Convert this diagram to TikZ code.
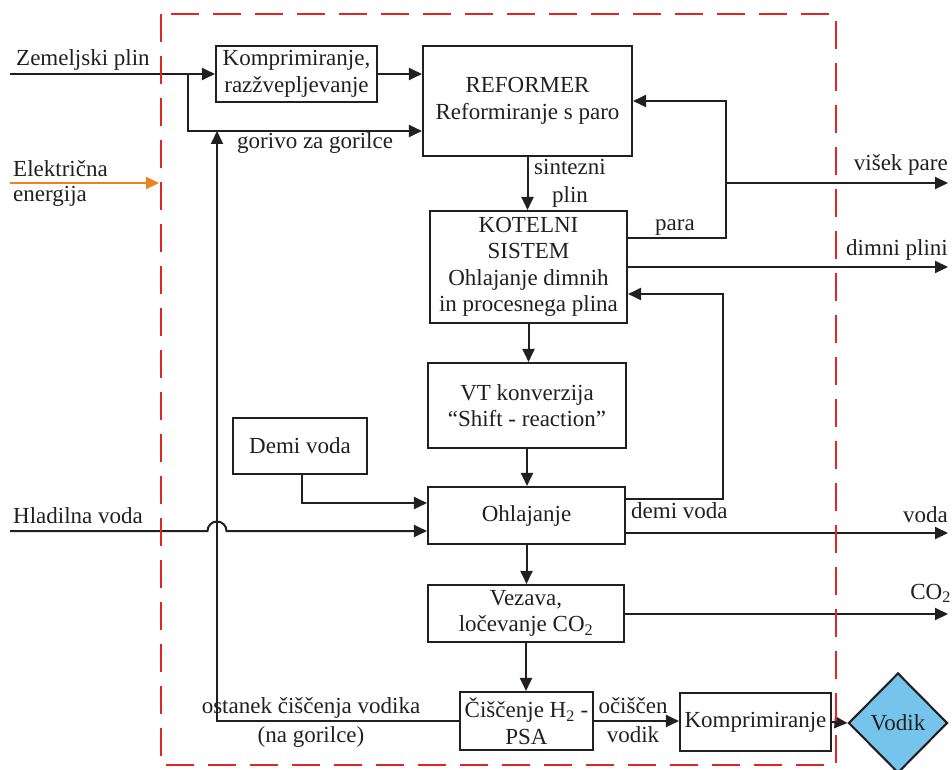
\documentclass[tikz,border=0pt]{standalone}
\usepackage{fontspec}
\setmainfont{Liberation Serif}
\usetikzlibrary{arrows.meta,shapes.geometric}
\definecolor{frame}{HTML}{E12424}
\definecolor{power}{HTML}{EB8321}
\definecolor{hyd}{HTML}{76C4EC}
\definecolor{ink}{HTML}{231F20}

\begin{document}
\begin{tikzpicture}[x=1pt,y=-1pt,
  every node/.style={font=\fontsize{23}{26.5}\selectfont, text=ink},
  unit/.style={draw=ink, line width=2.1pt, align=center, inner sep=2pt},
  lbl/.style={inner sep=0pt},
  flow/.style={draw=ink, line width=2pt, -{Triangle[length=13pt,width=12pt]}},
  boundary/.style={draw=frame, line width=2.5pt, dash pattern=on 28pt off 14pt},
]
\useasboundingbox (0,0) rectangle (952,770);

% process units
\node[unit, minimum width=161pt, minimum height=56pt]  (komp)     at (296.5,74)  {Komprimiranje,\\razžvepljevanje};
\node[unit, minimum width=209pt, minimum height=110pt] (reformer) at (527.5,101) {REFORMER\\Reformiranje s paro};
\node[unit, minimum width=197pt, minimum height=112pt] (kotel)    at (528.5,267) {KOTELNI\\SISTEM\\Ohlajanje dimnih\\in procesnega plina};
\node[unit, minimum width=198pt, minimum height=85pt]  (vt)       at (527,405.5) {VT konverzija\\“Shift - reaction”};
\node[unit, minimum width=134pt, minimum height=56pt]  (demi)     at (300,446)   {Demi voda};
\node[unit, minimum width=197pt, minimum height=57pt]  (ohl)      at (526.5,515.5) {Ohlajanje};
\node[unit, minimum width=196pt, minimum height=57pt]  (vez)      at (526,613.5) {Vezava,\\ločevanje CO\textsubscript{2}};
\node[unit, minimum width=133pt, minimum height=58pt]  (psa)      at (526.5,721) {Čiščenje H\textsubscript{2} -\\PSA};
\node[unit, minimum width=151pt, minimum height=58pt, inner sep=1pt] (komp2) at (755.5,722) {Komprimiranje};
\node[draw=ink, fill=hyd, line width=2.1pt, shape=diamond, aspect=1, inner sep=0pt,
      minimum width=99pt, minimum height=100pt] (vodik) at (898,723) {Vodik};

% free ends and bends of the streams
\coordinate (gasin)    at (10,74);
\coordinate (split)    at (188,74);
\coordinate (fuelrow)  at (188,131);
\coordinate (tailup)   at (217,131);
\coordinate (elin)     at (10,183);
\coordinate (elout)    at (159,183);
\coordinate (paraout)  at (726,238);
\coordinate (parain)   at (726,101);
\coordinate (steamtap) at (726,183);
\coordinate (steamout) at (948,183);
\coordinate (fluegas)  at (948,267);
\coordinate (dwout)    at (723,499);
\coordinate (dwin)     at (723,294);
\coordinate (demibend) at (302,503);
\coordinate (coolin)   at (10,531);
\coordinate (jumpL)    at (207.5,531);
\coordinate (waterout) at (948,533);
\coordinate (co2out)   at (948,614);

% streams
\draw[flow] (gasin) -- (komp.west);
\draw[flow] (komp.east) -- (komp.east -| reformer.west);
\draw[flow] (split) -- (fuelrow) -- (reformer.west |- fuelrow);
\draw[flow] (psa.west) -| (tailup);
\draw[flow, draw=power] (elin) -- (elout);
\draw[flow] (reformer.south) -- (reformer.south |- kotel.north);
\draw[flow] (kotel.east |- paraout) -- (paraout) -- (parain) -- (reformer.east |- parain);
\draw[flow] (steamtap) -- (steamout);
\draw[flow] (kotel.east |- fluegas) -- (fluegas);
\draw[flow] (kotel.south) -- (kotel.south |- vt.north);
\draw[flow] (vt.south) -- (vt.south |- ohl.north);
\draw[flow] (ohl.east |- dwout) -- (dwout) -- (dwin) -- (kotel.east |- dwin);
\draw[flow] (demi.south -| demibend) -- (demibend) -- (ohl.west |- demibend);
\draw[flow] (coolin) -- (jumpL) arc[start angle=180, end angle=360, radius=9.5] -- (ohl.west |- coolin);
\draw[flow] (ohl.east |- waterout) -- (waterout);
\draw[flow] (ohl.south) -- (ohl.south |- vez.north);
\draw[flow] (vez.east |- co2out) -- (co2out);
\draw[flow] (vez.south) -- (vez.south |- psa.north);
\draw[flow] (psa.east) -- (psa.east -| komp2.west);
\draw[flow] (komp2.east) -- (vodik.west);

% stream labels
\node[lbl, anchor=base west] (lzem)  at (16,66)   {Zemeljski plin};
\node[lbl, anchor=base west] (lel1)  at (13,176)  {Električna};
\node[lbl, anchor=base west] (lel2)  at (13,201)  {energija};
\node[lbl, anchor=base west] (lgor)  at (237,149) {gorivo za gorilce};
\node[lbl, anchor=base]      (lsin1) at (570,175) {sintezni};
\node[lbl, anchor=base]      (lsin2) at (570,202) {plin};
\node[lbl, anchor=base]      (lpara) at (675,230) {para};
\node[lbl, anchor=base east] (lvis)  at (948,171) {višek pare};
\node[lbl, anchor=base east] (ldim)  at (948,255) {dimni plini};
\node[lbl, anchor=base west] (ldw)   at (631,518) {demi voda};
\node[lbl, anchor=base west] (lhl)   at (13,523)  {Hladilna voda};
\node[lbl, anchor=base east] (lvoda) at (948,522) {voda};
\node[lbl, anchor=base east] (lco2)  at (951,599) {CO\textsubscript{2}};
\node[lbl, anchor=base]      (lost1) at (311,713) {ostanek čiščenja vodika};
\node[lbl, anchor=base]      (lost2) at (311,742) {(na gorilce)};
\node[lbl, anchor=base]      (loc1)  at (633,713) {očiščen};
\node[lbl, anchor=base]      (loc2)  at (633,742) {vodik};

% plant boundary
\draw[boundary] (161,14) rectangle (836,765);
\end{tikzpicture}
\end{document}
